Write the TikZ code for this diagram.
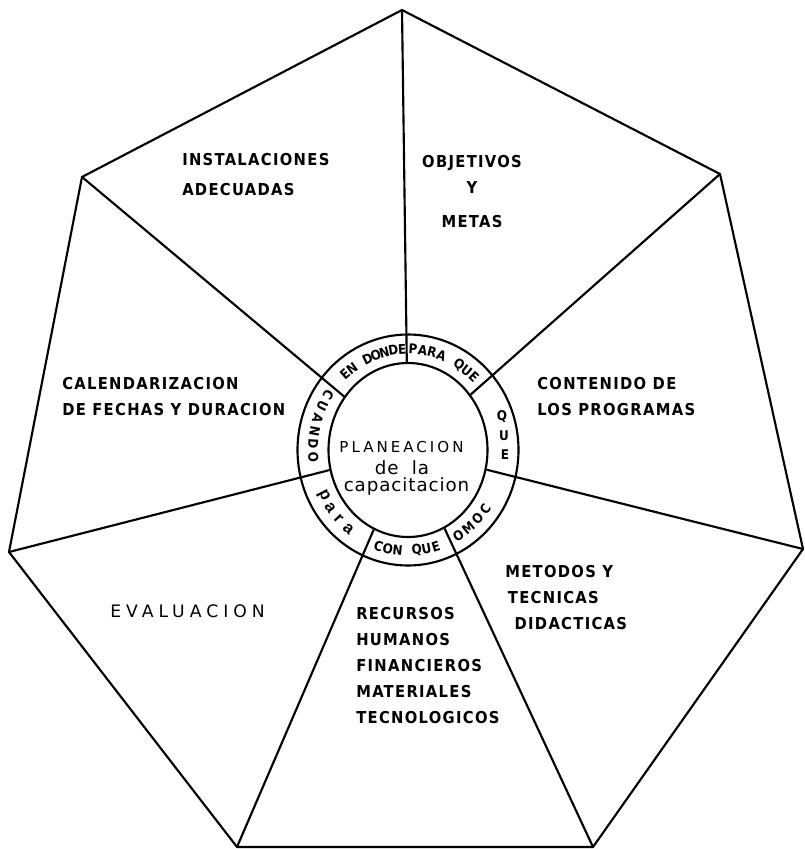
\documentclass[tikz,border=0pt]{standalone}
\usepackage{fontspec}
\usepackage{tikz}
\usetikzlibrary{shapes.geometric}

\newfontfamily\lblfont[LetterSpace=8]{DejaVu Sans Condensed Bold}
\newfontfamily\ctrfont[LetterSpace=20]{DejaVu Sans}
\newfontfamily\ctrlow[LetterSpace=5]{DejaVu Sans}
\newfontfamily\evalfont[LetterSpace=29]{DejaVu Sans}
\newfontfamily\ringfont{DejaVu Sans Condensed Bold}
\newfontfamily\ringlow{Liberation Sans Bold}

\begin{document}
\begin{tikzpicture}[x=0.75pt, y=-0.75pt,
    edge/.style={line width=1.6pt, line join=round},
    oval/.style={draw, ellipse, line width=1.6pt, inner sep=0pt},
    label/.style={font=\lblfont\fontsize{12.3}{19.5}\selectfont, align=left, anchor=west, inner sep=0pt},
    ringch/.style={font=\ringfont\fontsize{10}{10}\selectfont, inner sep=0pt},
    ctr/.style={anchor=base, inner sep=0pt}]

    \useasboundingbox (0,0) rectangle (804,849);

    % corners of the heptagon
    \coordinate (top) at (402,10);
    \coordinate (upright) at (720,174);
    \coordinate (right) at (803,549);
    \coordinate (lowright) at (593,847);
    \coordinate (lowleft) at (237,847);
    \coordinate (left) at (9,552);
    \coordinate (upleft) at (82,177);

    % the two rings in the middle
    \node[oval, minimum width=165.75pt, minimum height=173.25pt] (ring) at (408,450) {};
    \node[oval, minimum width=119.25pt, minimum height=130.5pt] (core) at (408,450) {};

    \draw[edge] (top) -- (upright) -- (right) -- (lowright) -- (lowleft) -- (left) -- (upleft) -- cycle;

    % spokes run through the ring up to the inner oval
    \draw[edge] (top) -- (core);
    \draw[edge] (upright) -- (core);
    \draw[edge] (right) -- (core);
    \draw[edge] (lowright) -- (core);
    \draw[edge] (lowleft) -- (core);
    \draw[edge] (left) -- (core);
    \draw[edge] (upleft) -- (core);

    % center text
    \node[ctr, font=\ctrfont\fontsize{11.3}{11.3}\selectfont] (plan) at (401.5,452.7) {PLANEACION};
    \node[ctr, font=\ctrlow\fontsize{13.7}{13.7}\selectfont] (plande) at (402,474) {de~~la};
    \node[ctr, font=\ctrlow\fontsize{13.7}{13.7}\selectfont] (plancap) at (406.5,491.7) {capacitacion};

    % the seven fields
    \node[label] (instal) at (182,175) {INSTALACIONES\\[3pt]ADECUADAS};
    \node[label, align=center, anchor=center] (objet) at (472,192) {OBJETIVOS\\Y\\[6pt]METAS};
    \node[label] (calend) at (62,396.5) {CALENDARIZACION\\DE FECHAS Y DURACION};
    \node[label] (conten) at (537,396.5) {CONTENIDO DE\\LOS PROGRAMAS};
    \node[label] (metod) at (505,597.5) {METODOS Y\\\hspace{2pt}TECNICAS\\\hspace{7pt}DIDACTICAS};
    \node[label, font=\evalfont\fontsize{12.9}{12.9}\selectfont] (evalu) at (110,611) {EVALUACION};
    \node[label] (recur) at (356,665.5) {RECURSOS\\HUMANOS\\FINANCIEROS\\MATERIALES\\TECNOLOGICOS};

    % words around the ring, one letter at a time
    \begin{scope}[shift={(core.center)}]
        \foreach \a/\ch in {131.5/E, 126.1/N, 115.2/D, 109.8/O, 104.4/N, 98.9/D, 93.5/E}
            \node[ringch, rotate=\a-90] (ed\a) at (\a:71.25pt and 75.75pt) {\ch};
        \foreach \a/\ch in {87/P, 81.1/A, 75.3/R, 69.4/A, 57.7/Q, 51.9/U, 46/E}
            \node[ringch, rotate=\a-90] (pq\a) at (\a:71.25pt and 75.75pt) {\ch};
        \foreach \a/\ch in {147/C, 154.4/U, 161.8/A, 169.2/N, 176.6/D, 184/O}
            \node[ringch, rotate=\a+90] (cu\a) at (\a:71.25pt and 75.75pt) {\ch};
        \foreach \a/\ch in {207/p, 215/a, 223/r, 231/a}
            \node[ringch, font=\ringlow\fontsize{12.5}{12.5}\selectfont, rotate=\a+90] (pa\a) at (\a:71.25pt and 75.75pt) {\ch};
        \foreach \a/\ch in {-108/C, -102.2/O, -96.3/N, -84.7/Q, -78.8/U, -73/E}
            \node[ringch, rotate=\a+90] (cq\a) at (\a:71.25pt and 75.75pt) {\ch};
        \foreach \a/\ch in {-58/O, -50.5/M, -43/O, -35.5/C}
            \node[ringch, rotate=\a+90] (co\a) at (\a:71.25pt and 75.75pt) {\ch};
    \end{scope}
    \node[ringch] (qu1) at (502,417) {Q};
    \node[ringch] (qu2) at (504,436) {U};
    \node[ringch] (qu3) at (505,455) {E};
\end{tikzpicture}
\end{document}
